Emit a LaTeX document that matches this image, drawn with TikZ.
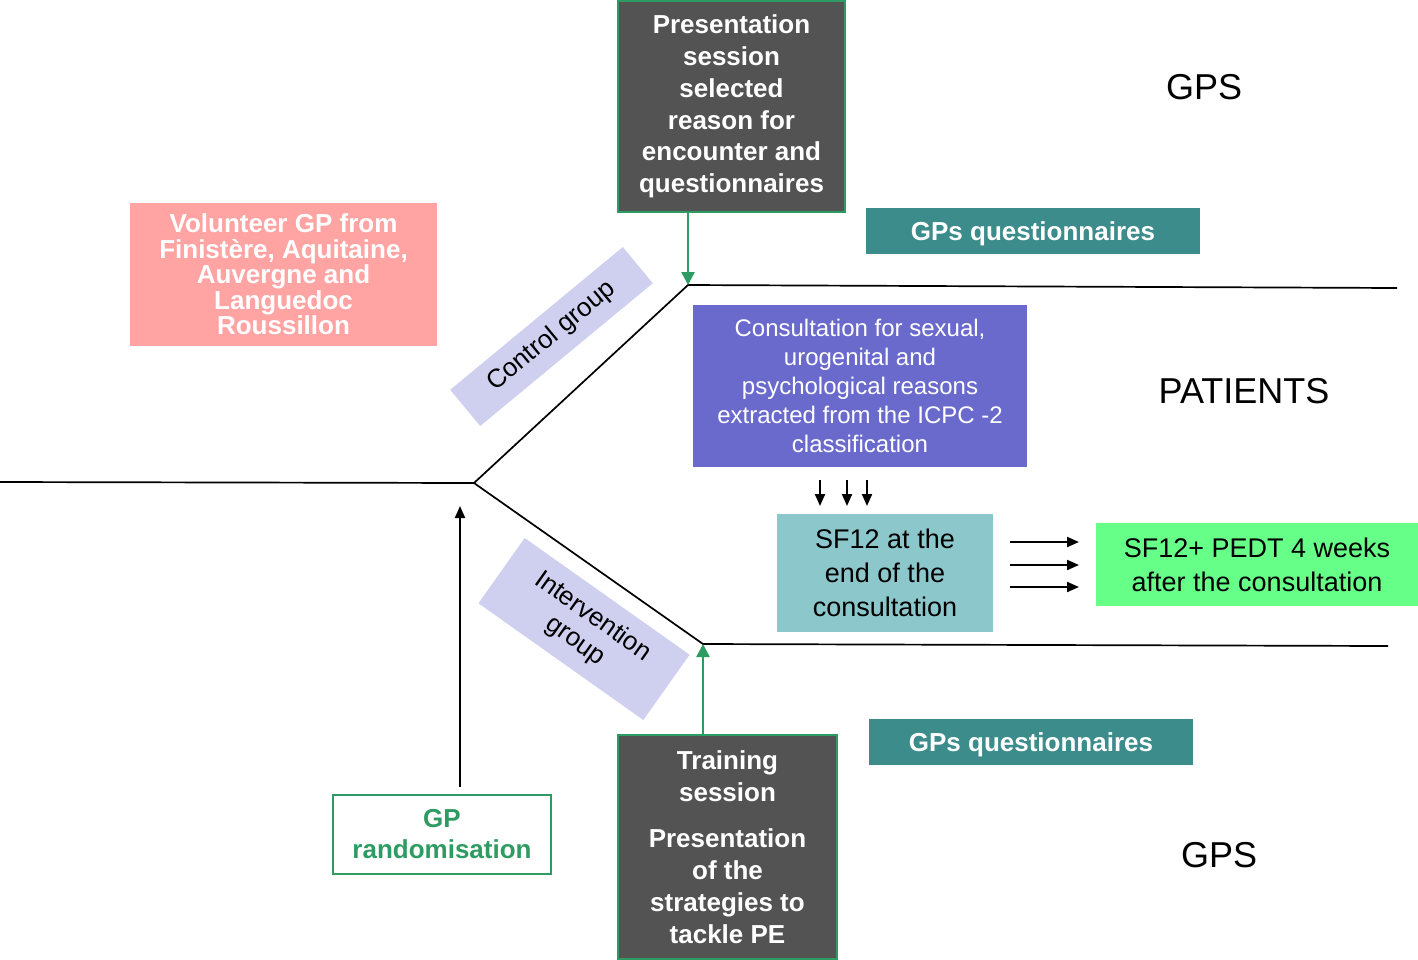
\documentclass[tikz,border=0pt]{standalone}
\usepackage{fontspec}
\setmainfont{Liberation Sans}
\usepackage{tikz}
\usetikzlibrary{arrows.meta}
\definecolor{sessiongray}{RGB}{83,83,83}
\definecolor{framegreen}{RGB}{46,156,98}
\definecolor{questeal}{RGB}{61,140,140}
\definecolor{gppink}{RGB}{255,163,163}
\definecolor{grouplav}{RGB}{207,207,240}
\definecolor{consultblue}{RGB}{106,106,204}
\definecolor{sfcyan}{RGB}{140,199,204}
\definecolor{weekgreen}{RGB}{102,255,136}

\begin{document}
\begin{tikzpicture}[x=1pt,y=-1pt]
\tikzset{size/.style 2 args={minimum width=#1,minimum height=#2,inner sep=0pt,align=center},
         session/.style={fill=sessiongray,draw=framegreen,line width=2pt,text=white,
                         font=\fontsize{26}{31.7}\selectfont\bfseries},
         ques/.style={fill=questeal,text=white,text height=25pt,text depth=5.5pt,
                      font=\fontsize{26}{30}\selectfont\bfseries},
         group/.style={fill=grouplav,font=\fontsize{26}{30}\selectfont},
         plain/.style={font=\fontsize{27}{34}\selectfont},
         big/.style={font=\fontsize{36}{40}\selectfont},
         flow/.style={line width=1.7pt},
         greenarrow/.style={draw=framegreen,line width=2.5pt,-{Triangle[width=13pt,length=13pt]}},
         blackarrow/.style={line width=2pt,-{Triangle[width=10pt,length=12pt]}}}
\useasboundingbox (0,0) rectangle (1418,959);

\node[session,size={227pt}{211pt}] (present) at (731.5,106.5)
  {Presentation\\session\\selected\\reason for\\encounter and\\questionnaires};
\node[session,size={219pt}{224pt}] (training) at (727.5,847)
  {Training\\session\\[15pt]Presentation\\of the\\strategies to\\tackle PE};
\node[fill=gppink,text=white,size={307pt}{143pt},font=\fontsize{26}{25.5}\selectfont\bfseries] (volunteer) at (283.5,274.5)
  {Volunteer GP from\\Finistère, Aquitaine,\\Auvergne and\\Languedoc\\Roussillon};
\node[ques,size={334pt}{46pt}] (quesup) at (1033,231) {GPs questionnaires};
\node[ques,size={324pt}{46pt}] (quesdown) at (1031,742) {GPs questionnaires};
\node[fill=consultblue,text=white,size={334pt}{162pt},font=\fontsize{24}{29}\selectfont] (consult) at (860,386)
  {Consultation for sexual,\\urogenital and\\psychological reasons\\extracted from the ICPC -2\\classification};
\node[plain,fill=sfcyan,size={216pt}{118pt}] (sfend) at (885,573) {SF12 at the\\end of the\\consultation};
\node[plain,fill=weekgreen,size={322pt}{83pt}] (sfweeks) at (1257,564.5) {SF12+ PEDT 4 weeks\\after the consultation};
\node[draw=framegreen,line width=2pt,text=framegreen,size={218pt}{79pt},font=\fontsize{26}{31}\selectfont\bfseries] (random) at (442,834.5)
  {GP\\randomisation};
\node[group,size={224pt}{47pt},rotate=39.6] (control) at (551.5,336.5) {Control group};
\node[group,size={202pt}{80pt},rotate=-35.3] (intervention) at (584,629) {Intervention\\group};
\node[big] (gpsup) at (1204,87) {GPS};
\node[big] (patients) at (1244,391) {PATIENTS};
\node[big] (gpsdown) at (1219,855) {GPS};

\coordinate (start) at (0,482);
\coordinate (fork) at (474,483);
\coordinate (ctop) at (688,285);
\coordinate (cbot) at (703,644);
\coordinate (topend) at (1397,288);
\coordinate (botend) at (1388,646);
\coordinate (randtip) at (460,506);

\draw[flow] (start) -- (fork) -- (ctop) -- (topend);
\draw[flow] (fork) -- (cbot) -- (botend);
\draw[greenarrow] (present.south -| ctop) -- (ctop);
\draw[greenarrow] (training.north -| cbot) -- (cbot);
\draw[blackarrow] (random.north -| randtip) ++(0,-7) -- (randtip);
\foreach \x in {820,847,867}
  \draw[blackarrow] (\x,480) -- (\x,506);
\foreach \y in {542,565,587}
  \draw[blackarrow] (1010,\y) -- (1079,\y);
\end{tikzpicture}
\end{document}
